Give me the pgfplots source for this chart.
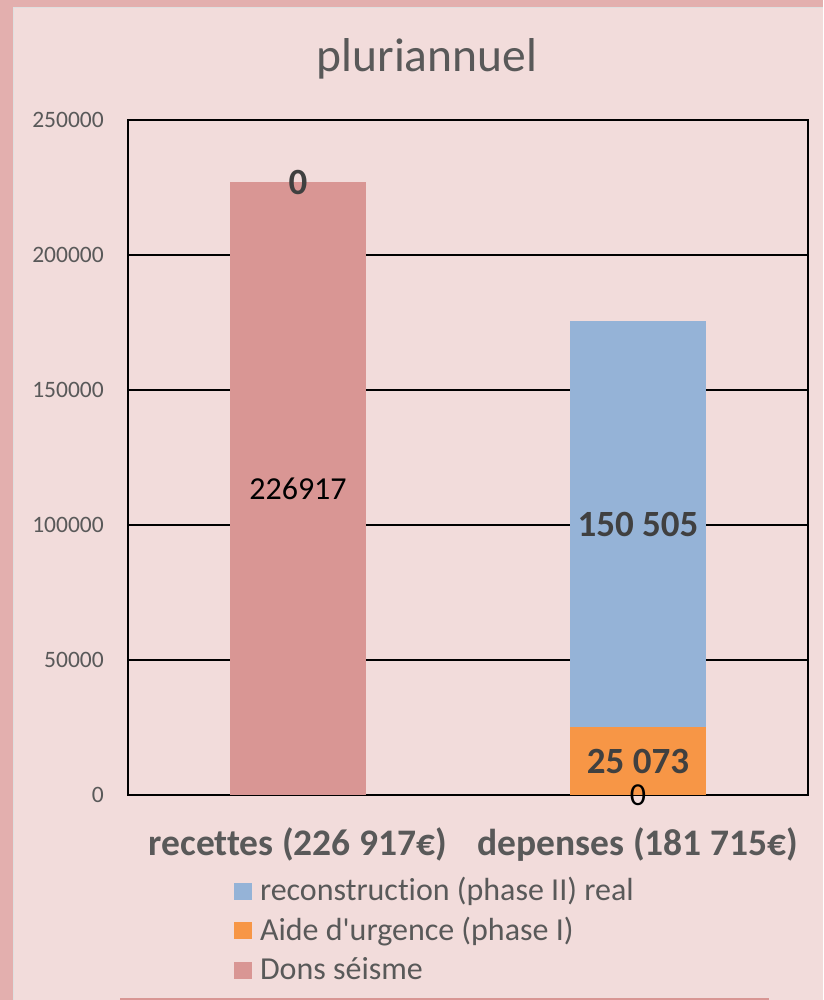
\documentclass[border=0pt]{standalone}
\usepackage{fontspec}
\setmainfont{Carlito}[Ligatures={NoCommon}]
\usepackage{pgfplots}
\pgfplotsset{compat=1.18}

\definecolor{bgpanel}{HTML}{F2DCDB}
\definecolor{bgframe}{HTML}{E3AFAE}
\definecolor{donspink}{HTML}{D99694}
\definecolor{aideorange}{HTML}{F79646}
\definecolor{reconblue}{HTML}{95B3D7}
\definecolor{txtgray}{HTML}{595959}
\definecolor{labgray}{HTML}{404040}

\pgfplotsset{
  sqlegend/.style={legend image code/.code={\fill[##1] (0pt,-6pt) rectangle (18pt,11pt);}},
}
\tikzset{
  labnorm/.style={anchor=center, inner sep=0pt, font=\fontsize{32}{36}\selectfont, text=black},
  labbold/.style={anchor=center, inner sep=0pt, font=\fontsize{37}{42}\selectfont\bfseries, text=labgray},
}

\begin{document}
\begin{tikzpicture}
\path[use as bounding box] (0,0) rectangle (823pt,-1000pt);
% frame and panel
\fill[bgframe] (0,0) rectangle (823pt,-1000pt);
\fill[bgpanel] (13pt,-7pt) rectangle (823pt,-1000pt);
\draw[gray!25, line width=0.8pt] (13pt,-1000pt) -- (13pt,-7pt) -- (823pt,-7pt);
\fill[donspink] (120pt,-997.5pt) rectangle (769pt,-1000pt);

\node[anchor=base, font=\fontsize{47.5}{54}\selectfont, text=txtgray] at (427pt,-72pt) {pluriannuel};

\begin{axis}[
  at={(128pt,-795pt)}, anchor=south west,
  width=680pt, height=675pt, scale only axis,
  clip=false,
  ybar stacked, bar width=136pt,
  xmin=-0.5, xmax=1.5, ymin=0, ymax=250000,
  xtick={0,1},
  xticklabels={recettes (226 917€), depenses (181 715€)},
  ytick={0,50000,100000,150000,200000,250000},
  scaled y ticks=false,
  yticklabel={\pgfmathprintnumber[fixed,precision=0,1000 sep={},assume math mode=true]{\tick}},
  major tick length=0pt,
  ymajorgrids,
  grid style={black, line width=1.4pt},
  axis line style={black, line width=1.8pt},
  yticklabel style={anchor=east, inner sep=0pt, xshift=-24pt,
    font=\fontsize{23.5}{28}\selectfont, text=txtgray},
  xticklabel style={anchor=base, inner sep=0pt, yshift=-60pt,
    font=\fontsize{37.5}{42}\selectfont\bfseries, text=txtgray},
  legend reversed,
  legend cell align=left,
  legend style={at={(0.1559,-0.1267)}, anchor=north west, draw=none, fill=none,
    inner sep=0pt, outer sep=0pt, row sep=13.5pt,
    nodes={inner sep=0pt, text height=20pt, text depth=6pt},
    /tikz/every odd column/.append style={column sep=8pt},
    font=\fontsize{32}{36}\selectfont, text=txtgray},
  % data labels, centred on each segment, drawn over the bars
  after end axis/.code={
    \node[labnorm] at (axis cs:0,113458.5) {226917};
    \node[labbold] at (axis cs:0,226917) {0};
    \node[labbold] at (axis cs:1,100325.5) {150 505};
    \node[labbold] at (axis cs:1,12536.5) {25 073};
    \node[labnorm] at (axis cs:1,0) {0};
  },
]
\addplot[fill=donspink, draw=none, sqlegend]
  coordinates {(0,226917) (1,0)};
\addplot[fill=aideorange, draw=none, sqlegend]
  coordinates {(0,0) (1,25073)};
\addplot[fill=reconblue, draw=none, sqlegend]
  coordinates {(0,0) (1,150505)};
\legend{Dons séisme, Aide d\textquotesingle urgence (phase I), reconstruction (phase II) real}
\end{axis}
\end{tikzpicture}
\end{document}
